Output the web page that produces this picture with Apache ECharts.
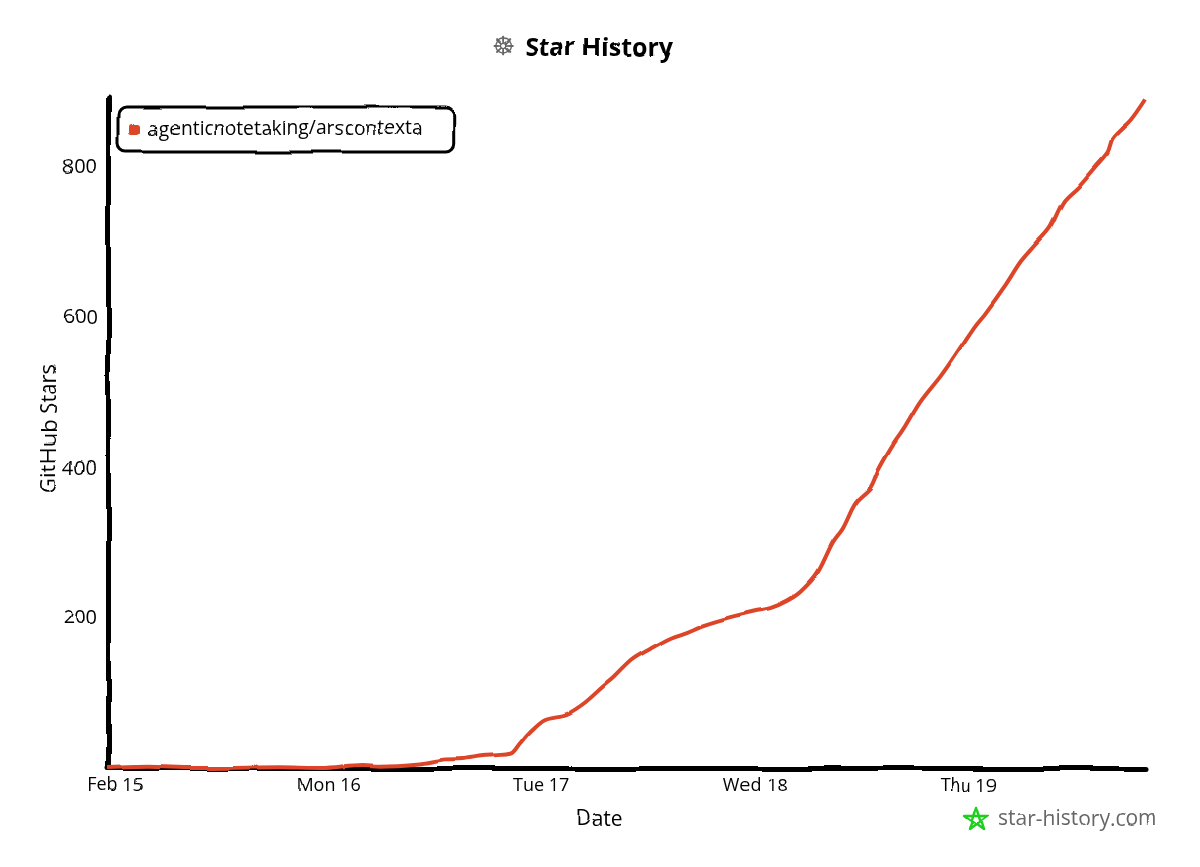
<!DOCTYPE html>
<html>
<head>
<meta charset="utf-8">
<script src="https://cdn.jsdelivr.net/npm/echarts@6/dist/echarts.min.js"></script>
<style>html,body{margin:0;padding:0;background:#fff}#c{width:1200px;height:867px;filter:url(#sketch)}</style>
</head>
<body>
<svg width="0" height="0" style="position:absolute"><filter id="sketch" x="0" y="0" width="100%" height="100%" color-interpolation-filters="sRGB"><feTurbulence type="fractalNoise" baseFrequency="0.02" numOctaves="1" seed="4" result="n"/><feDisplacementMap in="SourceGraphic" in2="n" scale="6" xChannelSelector="R" yChannelSelector="G"/><feGaussianBlur stdDeviation="0.5"/></filter></svg>
<div id="c"></div>
<script>
const seriesName = 'agenticnotetaking/arscontexta';
const hours = [-0.9,3.6,8.7,10.9,18.5,23,27.8,29.7,34.3,37.1,39.1,41.4,43.3,44.6,45.5,46.6,48.3,50.8,52.8,54.8,56,58.1,60.2,62.4,64.3,66.1,69.2,72.2,73.7,75.6,77.1,79,80.7,81.9,83.3,85,85.9,87.5,88.7,90.6,92.8,94,95.7,96.8,97.9,100.2,101.9,103.5,105.2,106.7,108.4,110.5,111.7,112.3,114.3,115.9];
const stars = [0,1.5,0,0,1,0,4,3,6,11.5,12,16,17.5,20,33,48,65,72,87,108,120,144,159,173,181,190,201,209.5,213,223,235,260,300,320,353,373,397,430,451,488,521,541,571,590,606,644,675,697,720,755,775,804,821,840,864,891];
const xTickHours = [0,24,48,72,96];
const xTickLabels = ['Feb 15','Mon 16','Tue 17','Wed 18','Thu 19'];
const yTicks = [200,400,600,800];

const font = '"Open Sans", sans-serif';
const chart = echarts.init(document.getElementById('c'), null, {renderer:'canvas'});
chart.setOption({
  animation:false,
  backgroundColor:'#fff',
  title:{
    left:487, top:31,
    text:'{i|☸}  {t|Star History}',
    textStyle:{rich:{
      i:{fontSize:25,color:'#666',fontFamily:'"DejaVu Sans"'},
      t:{fontSize:25,fontWeight:'bold',color:'#000',fontFamily:font}
    }}
  },
  legend:{
    left:118, top:107, selectedMode:false, orient:'horizontal',
    icon:'roundRect', itemWidth:11, itemHeight:11, itemGap:9,
    padding:[13,32,13,11],
    borderColor:'#000', borderWidth:3, borderRadius:8,
    textStyle:{fontFamily:font,fontSize:19.3,color:'#000',padding:[0,0,0,3]},
    data:[seriesName]
  },
  grid:{left:108,right:55,top:98,bottom:99,containLabel:false},
  xAxis:{
    type:'value', min:-0.9, max:115.9,
    name:'Date', nameLocation:'middle', nameGap:42, nameMoveOverlap:false,
    nameTextStyle:{fontFamily:font,fontSize:21,color:'#000',padding:[0,54,0,0]},
    splitLine:{show:false}, axisTick:{show:false},
    axisLine:{onZero:false,lineStyle:{color:'#000',width:5}},
    axisLabel:{customValues:xTickHours,margin:9,fontFamily:font,fontSize:18,color:'#000',
      formatter:v=>xTickLabels[xTickHours.indexOf(v)]||''}
  },
  yAxis:{
    type:'value', min:0, max:893, interval:200,
    name:'GitHub Stars', nameLocation:'middle', nameGap:47, nameRotate:90, nameMoveOverlap:false,
    nameTextStyle:{fontFamily:font,fontSize:22,color:'#000',padding:[0,0,0,10]},
    splitLine:{show:false}, axisTick:{show:false},
    axisLine:{show:true,onZero:false,lineStyle:{color:'#000',width:5}},
    axisLabel:{customValues:yTicks,margin:11,fontFamily:font,fontSize:20,color:'#000'}
  },
  series:[{
    name:seriesName, type:'line', smooth:0.3, showSymbol:false,
    lineStyle:{color:'#dd4528',width:4},
    itemStyle:{color:'#dd4528'},
    data:hours.map((h,i)=>[h,stars[i]])
  }],
  graphic:[
    {type:'polygon',shape:{points:[[977,807],[984,830],[965,816],[989,816],[970,830]]},
     style:{fill:'none',stroke:'#1ed01e',lineWidth:2.5,lineJoin:'round'}},
    {type:'text',left:998,top:810,style:{text:'star-history.com',fontFamily:font,fontSize:21,fill:'#666'}}
  ]
});
</script>
</body>
</html>
